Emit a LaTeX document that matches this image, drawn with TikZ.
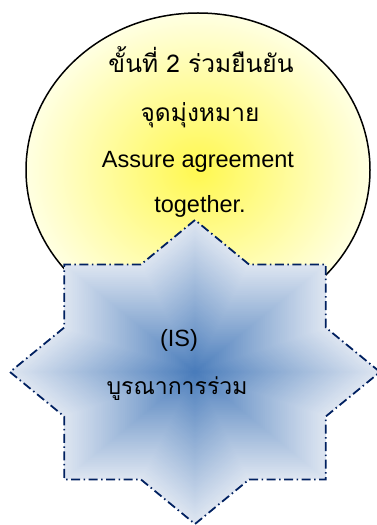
\documentclass[tikz,border=0pt]{standalone}
\usepackage{fontspec}
\setmainfont{Liberation Sans}
\newfontfamily\thaifont[Script=Thai]{Loma}
\usetikzlibrary{shapes.geometric}
\definecolor{starlight}{RGB}{221,229,241}
\definecolor{stardark}{RGB}{70,122,186}
\definecolor{starline}{RGB}{0,32,96}
\definecolor{sunin}{RGB}{255,248,80}
\definecolor{sunout}{RGB}{255,255,226}
\tikzset{
  sun/.style={ellipse, draw=black, line width=1.5pt, inner color=sunin, outer color=sunout,
    minimum width=344pt, minimum height=314pt, inner sep=0pt},
  starrim/.style={draw=starline, line width=1.8pt, dash pattern=on 9pt off 3.5pt on 1.5pt off 3.5pt},
  thaitext/.style={font=\thaifont\fontsize{23}{28}\selectfont, anchor=base, inner sep=0pt},
  thaibig/.style={font=\thaifont\fontsize{24.5}{28}\selectfont, anchor=base, inner sep=0pt},
  latintext/.style={font=\fontsize{23.5}{28}\selectfont, anchor=base, inner sep=0pt},
}
\def\starpts{(0:1) -- (22.5:.765) -- (45:1) -- (67.5:.765) -- (90:1) -- (112.5:.765) -- (135:1) -- (157.5:.765) -- (180:1) -- (202.5:.765) -- (225:1) -- (247.5:.765) -- (270:1) -- (292.5:.765) -- (315:1) -- (337.5:.765)}
\begin{document}
\begin{tikzpicture}[x=1pt,y=1pt]
\useasboundingbox (0,0) rectangle (377,525);
\node[sun] (sun) at (198,355) {};
\begin{scope}[shift={(195,153)}, x=185pt, y=152pt]
  \foreach \i in {0,...,59} {
    \pgfmathsetmacro\s{1-\i/60}
    \pgfmathsetmacro\p{100*(\s)^0.95}
    \fill[starlight!\p!stardark, scale=\s] \starpts -- cycle;
  }
  \draw[starrim] \starpts -- cycle;
\end{scope}
\node[thaibig] (l1) at (201,452) {ขั้นที่ 2 ร่วมยืนยัน};
\node[thaibig] (l2) at (200,403) {จุดมุ่งหมาย};
\node[latintext] (l3) at (198,357) {Assure agreement};
\node[latintext] (l4) at (200,312) {together.};
\node[latintext] (s1) at (179,178) {(IS)};
\node[thaitext] (s2) at (177,130) {บูรณาการร่วม};
\end{tikzpicture}
\end{document}
